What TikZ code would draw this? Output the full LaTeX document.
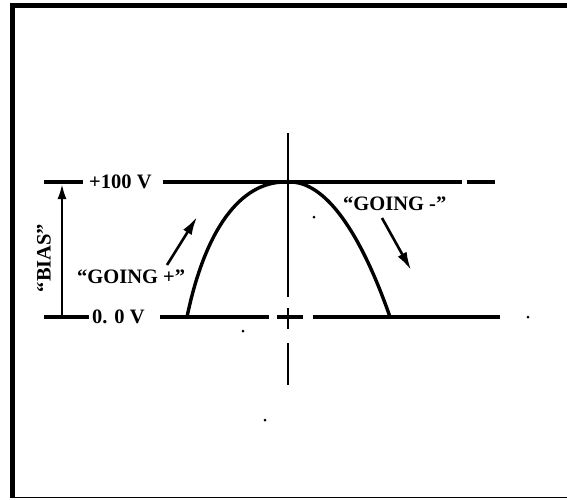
\documentclass[tikz,border=0pt]{standalone}
\usepackage{fontspec}
\setmainfont{Liberation Serif}
\usetikzlibrary{arrows.meta}
\begin{document}
\begin{tikzpicture}[x=1pt,y=-1pt,
  lbl/.style={font=\fontsize{20.5}{22}\selectfont\bfseries, inner sep=0pt},
  ln/.style={line width=3.4pt},
  axis/.style={line width=2.2pt},
  dot/.style={circle,fill,inner sep=0pt,minimum size=3pt},
  arr/.style={line width=2.6pt,-{Latex[length=18pt,width=10pt]}}]
\useasboundingbox (0,0) rectangle (567,499);
% frame
\draw[line width=5.5pt] (12.25,497) -- (12.25,5.5) -- (567,5.5);
\draw[line width=1.5pt] (9.5,497.5) -- (567,497.5);
% labels
\node[lbl, anchor=west] (top) at (89,182) {+100 V};
\node[lbl, anchor=west] (zero) at (92,317) {0. 0 V};
\node[lbl, rotate=90] (bias) at (44,258) {``BIAS''};
\node[lbl, anchor=west] (gp) at (77,277) {``GOING +''};
\node[lbl, anchor=west] (gm) at (343,204) {``GOING -''};
% coordinates
\coordinate (tl) at (44,182);
\coordinate (tr) at (83,182);
\coordinate (bl) at (44,317);
\coordinate (br) at (89,317);
\coordinate (ab) at (62,317);
\coordinate (at) at (62,184);
\coordinate (h1a) at (163,182);
\coordinate (h1b) at (462,182);
\coordinate (h1c) at (467,182);
\coordinate (h1d) at (495,182);
\coordinate (h0a) at (160,317);
\coordinate (h0b) at (269,317);
\coordinate (h0c) at (313,317);
\coordinate (h0d) at (500,317);
\coordinate (v1) at (288,133);
\coordinate (v2) at (288,297);
\coordinate (v3) at (288,308);
\coordinate (v4) at (288,329);
\coordinate (c1) at (277,317);
\coordinate (c2) at (303,317);
\coordinate (v5) at (288,343);
\coordinate (v6) at (288,385);
\coordinate (p0) at (187,317);
\coordinate (pk1) at (285,182);
\coordinate (pk2) at (290,182);
\coordinate (p1) at (390,317);
\coordinate (gpa) at (167,265);
\coordinate (gpb) at (197,217);
\coordinate (gma) at (382,218);
\coordinate (gmb) at (411,270);
% bias marks
\draw[ln] (tl) -- (tr);
\draw[ln] (bl) -- (br);
\draw[line width=2.4pt, -{Latex[length=15pt,width=9pt]}] (ab) -- (at);
% level lines
\draw[ln] (h1a) -- (h1b);
\draw[ln] (h1c) -- (h1d);
\draw[ln] (h0a) -- (h0b);
\draw[ln] (h0c) -- (h0d);
% centre line
\draw[axis] (v1) -- (v2);
\draw[axis] (v3) -- (v4);
\draw[ln] (c1) -- (c2);
\draw[axis] (v5) -- (v6);
% pulse
\draw[ln] (p0) .. controls (205,230) and (240,182) .. (pk1) -- (pk2)
  .. controls (330,182) and (365,245) .. (p1);
% direction arrows
\draw[arr] (gpa) -- (gpb);
\draw[arr] (gma) -- (gmb);
% specks
\node[dot] (d1) at (314,217) {};
\node[dot] (d2) at (243,331) {};
\node[dot] (d3) at (265,420) {};
\node[dot] (d4) at (528,317) {};
\end{tikzpicture}
\end{document}
